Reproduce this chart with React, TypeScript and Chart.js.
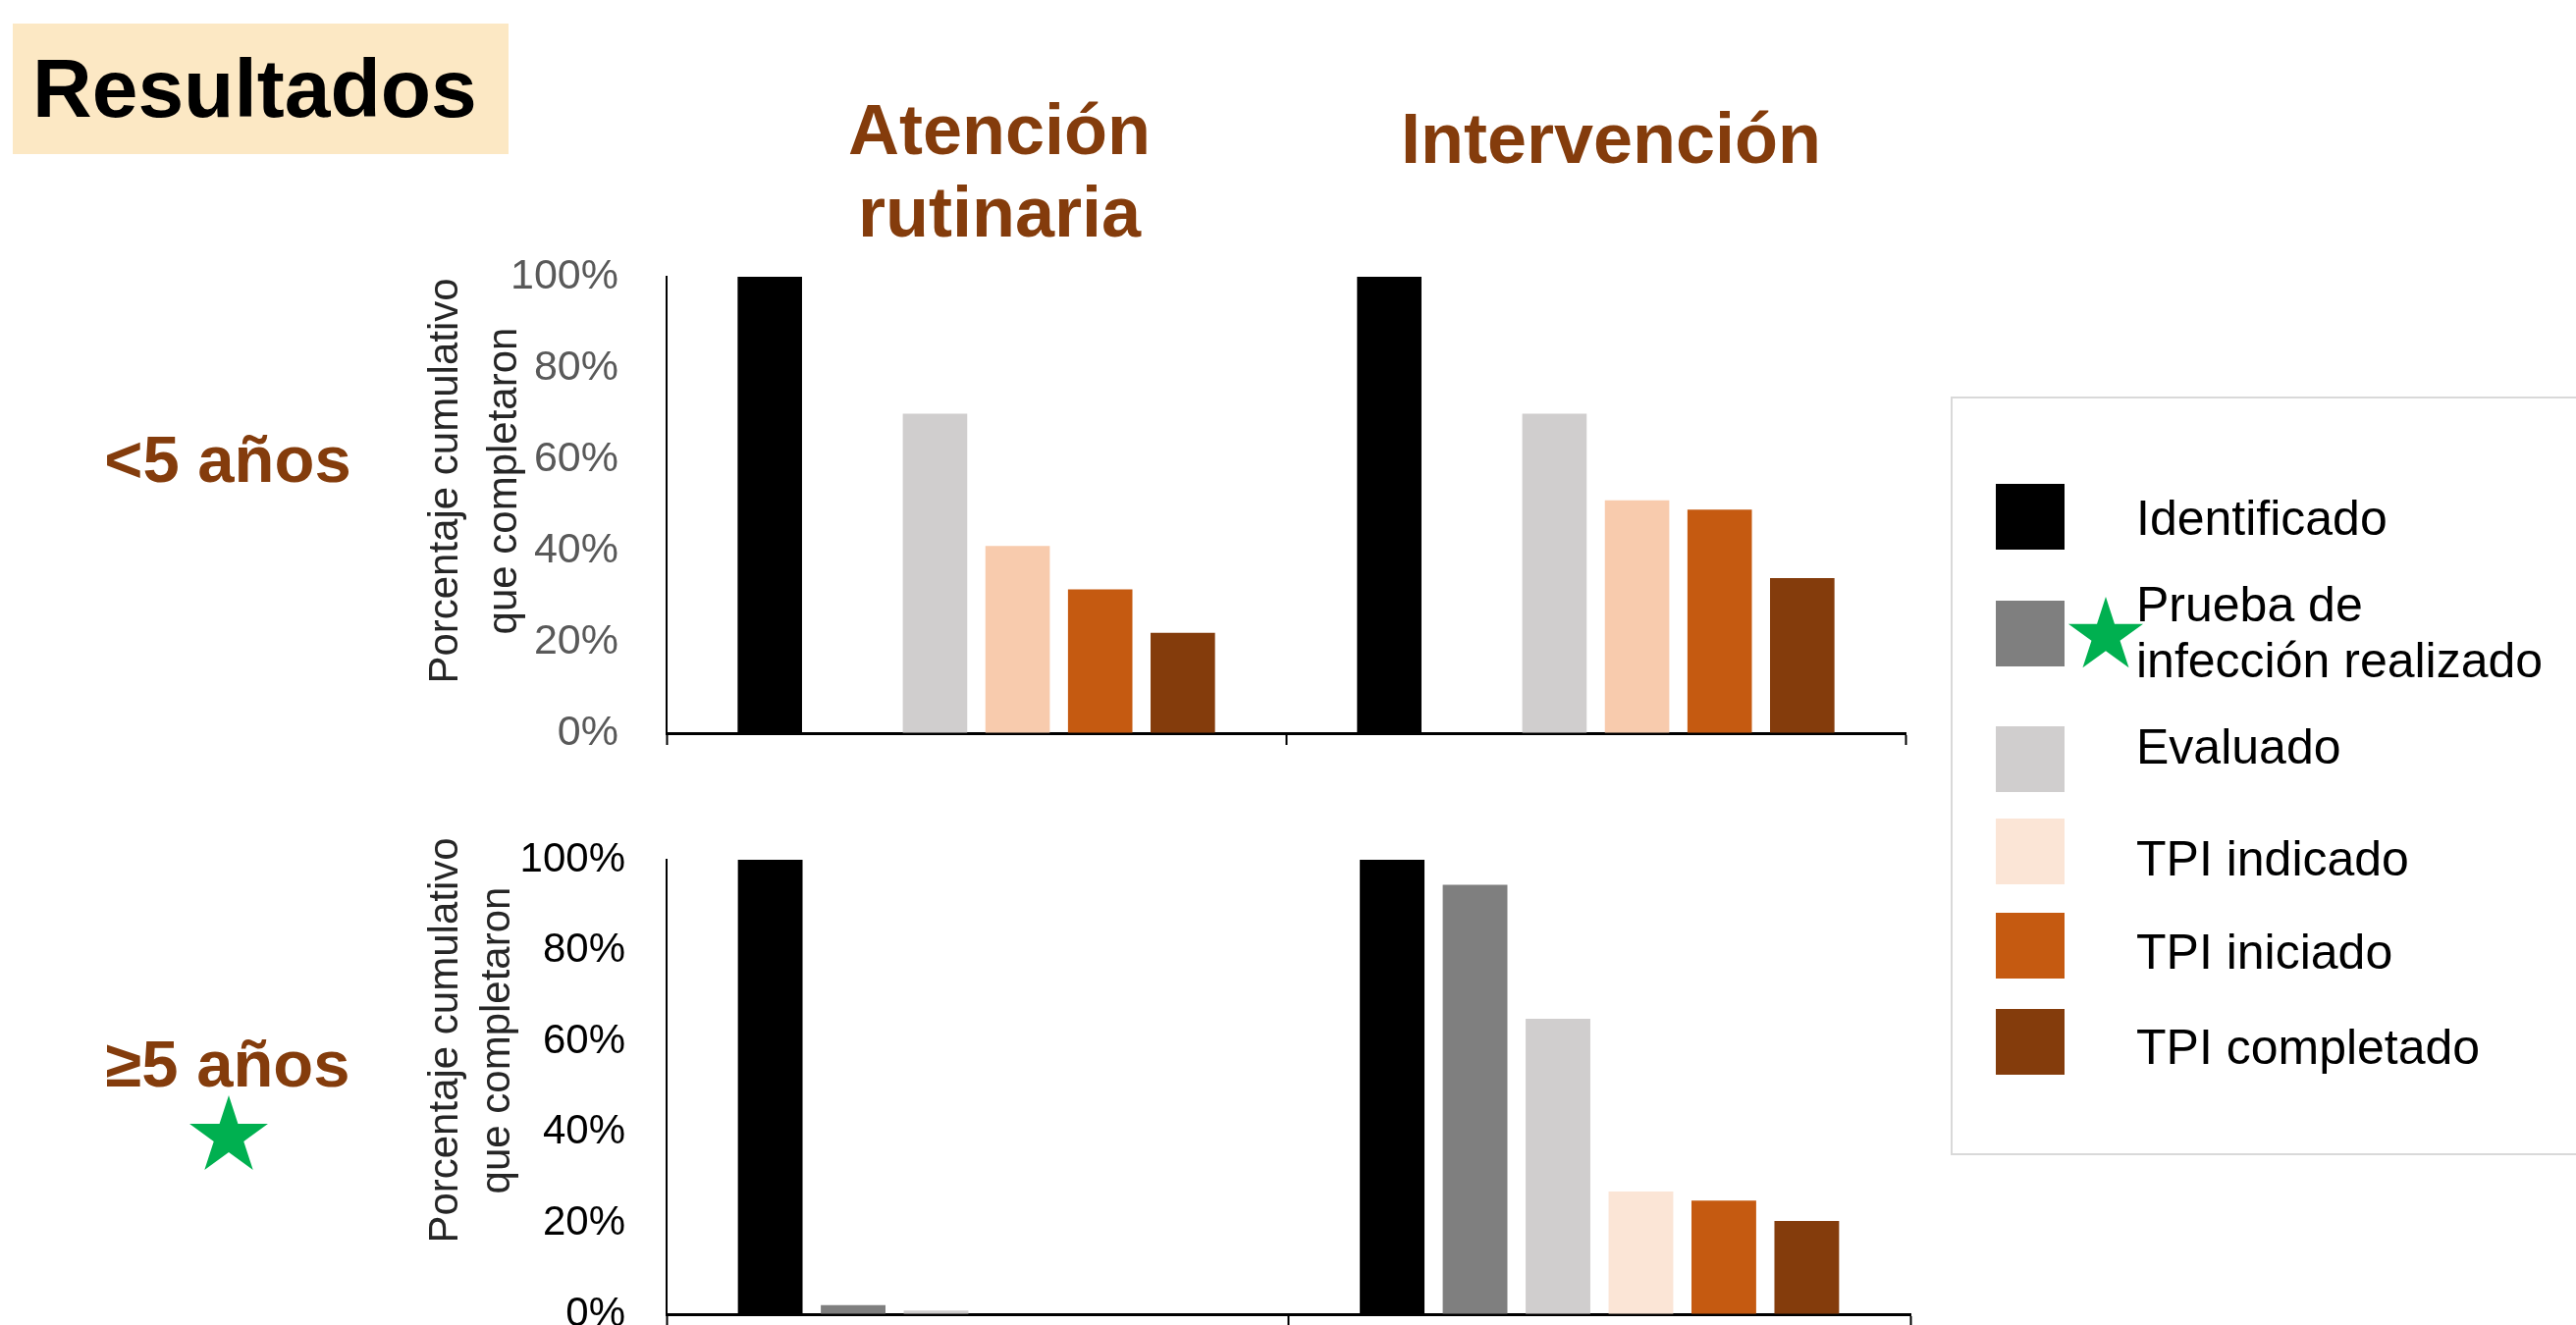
import React, { useEffect, useRef } from 'react';
import { Chart, registerables } from 'chart.js';

Chart.register(...registerables);

const FONT = '"Liberation Sans", Arial, Helvetica, sans-serif';

// ---------- DATA ----------
const CATEGORIES = ['Atención rutinaria', 'Intervención'];
const STAGES = [
  'Identificado',
  'Prueba de infección realizado',
  'Evaluado',
  'TPI indicado',
  'TPI iniciado',
  'TPI completado',
];
const LEGEND_LINES = [
  ['Identificado'],
  ['Prueba de', 'infección realizado'],
  ['Evaluado'],
  ['TPI indicado'],
  ['TPI iniciado'],
  ['TPI completado'],
];
const ROW_LABELS = ['<5 años', '≥5 años'];
const Y_TICK_VALUES = [0, 20, 40, 60, 80, 100];
const Y_TITLE_LINES = ['Porcentaje cumulativo', 'que completaron'];

// <5 años : [Atención rutinaria, Intervención]
const U5_IDENTIFICADO = [100, 100];
const U5_PRUEBA = [0, 0];
const U5_EVALUADO = [70, 70];
const U5_TPI_INDICADO = [41, 51];
const U5_TPI_INICIADO = [31.5, 49];
const U5_TPI_COMPLETADO = [22, 34];

// ≥5 años : [Atención rutinaria, Intervención]
const O5_IDENTIFICADO = [100, 100];
const O5_PRUEBA = [2, 94.5];
const O5_EVALUADO = [0.8, 65];
const O5_TPI_INDICADO = [0, 27];
const O5_TPI_INICIADO = [0, 25];
const O5_TPI_COMPLETADO = [0, 20.5];

const UNDER5 = [U5_IDENTIFICADO, U5_PRUEBA, U5_EVALUADO, U5_TPI_INDICADO, U5_TPI_INICIADO, U5_TPI_COMPLETADO];
const OVER5 = [O5_IDENTIFICADO, O5_PRUEBA, O5_EVALUADO, O5_TPI_INDICADO, O5_TPI_INICIADO, O5_TPI_COMPLETADO];

const COLORS_UNDER5 = ['#000000', '#7F7F7F', '#D0CECE', '#F8CBAD', '#C55A11', '#843C0C'];
const COLORS_OVER5 = ['#000000', '#7F7F7F', '#D0CECE', '#FBE5D6', '#C55A11', '#843C0C'];

// ---------- LAYOUT ----------
const LEGEND_SWATCH_TOP = [493, 612, 740, 834, 930, 1028];
const LEGEND_TEXT_CENTER = [528, 645, 761, 875, 970, 1067];

type PanelProps = {
  series: number[][];
  colors: string[];
  left: number;
  top: number;
  width: number;
  height: number;
  padTop: number;
  padRight: number;
  yAxisWidth: number;
  xAxisHeight: number;
  tickColor: string;
  tickSize: number;
  tickGap: number;
  titleX: number[];
  titleY: number;
};

function BarPanel(p: PanelProps) {
  const ref = useRef<HTMLCanvasElement | null>(null);

  useEffect(() => {
    if (!ref.current) return;
    const yTitlePlugin = {
      id: 'yTitleCustom',
      afterDraw(chart: any) {
        const ctx = chart.ctx;
        ctx.save();
        ctx.font = `42px ${FONT}`;
        ctx.fillStyle = '#262626';
        ctx.textAlign = 'center';
        ctx.textBaseline = 'middle';
        Y_TITLE_LINES.forEach((line, i) => {
          ctx.save();
          ctx.translate(p.titleX[i], p.titleY);
          ctx.rotate(-Math.PI / 2);
          ctx.fillText(line, 0, 0);
          ctx.restore();
        });
        ctx.restore();
      },
    };

    const chart = new Chart(ref.current, {
      type: 'bar',
      data: {
        labels: CATEGORIES,
        datasets: STAGES.map((s, i) => ({
          label: s,
          data: p.series[i],
          backgroundColor: p.colors[i],
          borderWidth: 0,
          barPercentage: 0.78,
          categoryPercentage: 0.8,
        })),
      },
      options: {
        animation: false,
        responsive: false,
        devicePixelRatio: 1,
        layout: { padding: { top: p.padTop, right: p.padRight, left: 0, bottom: 0 } },
        plugins: { legend: { display: false }, tooltip: { enabled: false }, title: { display: false } },
        scales: {
          x: {
            type: 'category',
            z: 1,
            ticks: { display: false },
            grid: {
              display: true,
              drawOnChartArea: false,
              drawTicks: true,
              tickLength: 12,
              tickWidth: 2,
              tickColor: '#000000',
              offset: true,
            },
            border: { display: true, color: '#000000', width: 3 },
            afterFit: (scale: any) => {
              scale.height = p.xAxisHeight;
            },
          },
          y: {
            min: 0,
            max: 100,
            afterBuildTicks: (scale: any) => {
              scale.ticks = Y_TICK_VALUES.map((v) => ({ value: v }));
            },
            ticks: {
              color: p.tickColor,
              font: { family: FONT, size: p.tickSize },
              padding: 0,
              callback: (v: any) => `${v}%`,
            },
            grid: {
              display: true,
              drawOnChartArea: false,
              drawTicks: true,
              tickLength: p.tickGap,
              tickColor: 'rgba(0,0,0,0)',
            },
            border: { display: true, color: '#000000', width: 2 },
            afterFit: (scale: any) => {
              scale.width = p.yAxisWidth;
            },
          },
        },
      },
      plugins: [yTitlePlugin],
    });
    return () => chart.destroy();
  }, []);

  return (
    <canvas
      ref={ref}
      width={p.width}
      height={p.height}
      style={{ position: 'absolute', left: p.left, top: p.top, width: p.width, height: p.height }}
    />
  );
}

function Star({ cx, cy, r }: { cx: number; cy: number; r: number }) {
  const pts: string[] = [];
  for (let i = 0; i < 10; i++) {
    const a = (-90 + i * 36) * (Math.PI / 180);
    const rr = i % 2 === 0 ? r : r * 0.382;
    pts.push(`${(r + rr * Math.cos(a)).toFixed(2)},${(r + rr * Math.sin(a)).toFixed(2)}`);
  }
  return (
    <svg
      width={2 * r}
      height={2 * r}
      style={{ position: 'absolute', left: cx - r, top: cy - r, overflow: 'visible' }}
    >
      <polygon points={pts.join(' ')} fill="#00B050" />
    </svg>
  );
}

export default function App() {
  const brown = '#843C0C';
  return (
    <div
      style={{
        position: 'absolute',
        left: 0,
        top: 0,
        width: 2624,
        height: 1350,
        overflow: 'hidden',
        background: '#ffffff',
        fontFamily: FONT,
      }}
    >
      {/* Resultados banner */}
      <div style={{ position: 'absolute', left: 13, top: 24, width: 505, height: 133, background: '#FCE8C4' }} />
      <div
        style={{
          position: 'absolute',
          left: 33,
          top: 48,
          fontSize: 84,
          lineHeight: '84px',
          fontWeight: 'bold',
          color: '#000',
          whiteSpace: 'nowrap',
        }}
      >
        Resultados
      </div>

      {/* Column titles */}
      <div
        style={{
          position: 'absolute',
          left: 1018 - 300,
          width: 600,
          top: 90,
          fontSize: 72,
          lineHeight: '84px',
          fontWeight: 'bold',
          color: brown,
          textAlign: 'center',
        }}
      >
        <div>Atención</div>
        <div>rutinaria</div>
      </div>
      <div
        style={{
          position: 'absolute',
          left: 1641 - 300,
          width: 600,
          top: 99,
          fontSize: 72,
          lineHeight: '84px',
          fontWeight: 'bold',
          color: brown,
          textAlign: 'center',
        }}
      >
        {CATEGORIES[1]}
      </div>

      {/* Row labels */}
      <div
        style={{
          position: 'absolute',
          left: 232 - 200,
          width: 400,
          top: 434,
          fontSize: 67,
          lineHeight: '67px',
          fontWeight: 'bold',
          color: brown,
          textAlign: 'center',
        }}
      >
        {ROW_LABELS[0]}
      </div>
      <div
        style={{
          position: 'absolute',
          left: 232 - 200,
          width: 400,
          top: 1050,
          fontSize: 67,
          lineHeight: '67px',
          fontWeight: 'bold',
          color: brown,
          textAlign: 'center',
        }}
      >
        {ROW_LABELS[1]}
      </div>
      <Star cx={233} cy={1158} r={42} />

      {/* Charts */}
      <BarPanel
        series={UNDER5}
        colors={COLORS_UNDER5}
        left={400}
        top={250}
        width={1560}
        height={530}
        padTop={32}
        padRight={19}
        yAxisWidth={279}
        xAxisHeight={33}
        tickColor="#595959"
        tickSize={43}
        tickGap={49}
        titleX={[54, 114]}
        titleY={240}
      />
      <BarPanel
        series={OVER5}
        colors={COLORS_OVER5}
        left={400}
        top={840}
        width={1566}
        height={530}
        padTop={36}
        padRight={20}
        yAxisWidth={279}
        xAxisHeight={31}
        tickColor="#000000"
        tickSize={42}
        tickGap={42}
        titleX={[54, 107]}
        titleY={220}
      />

      {/* Legend */}
      <div
        style={{
          position: 'absolute',
          left: 1987,
          top: 404,
          width: 680,
          height: 773,
          border: '2px solid #D9D9D9',
          boxSizing: 'border-box',
        }}
      />
      {STAGES.map((s, i) => (
        <div
          key={'sw' + s}
          style={{
            position: 'absolute',
            left: 2033,
            top: LEGEND_SWATCH_TOP[i],
            width: 70,
            height: 67,
            background: COLORS_OVER5[i],
          }}
        />
      ))}
      {LEGEND_LINES.map((lines, i) => (
        <div
          key={'lt' + i}
          style={{
            position: 'absolute',
            left: 2176,
            top: LEGEND_TEXT_CENTER[i] - (lines.length * 57) / 2,
            fontSize: 50,
            lineHeight: '57px',
            color: '#000',
            whiteSpace: 'nowrap',
          }}
        >
          {lines.map((l) => (
            <div key={l}>{l}</div>
          ))}
        </div>
      ))}
      <Star cx={2145} cy={648} r={40} />
    </div>
  );
}
